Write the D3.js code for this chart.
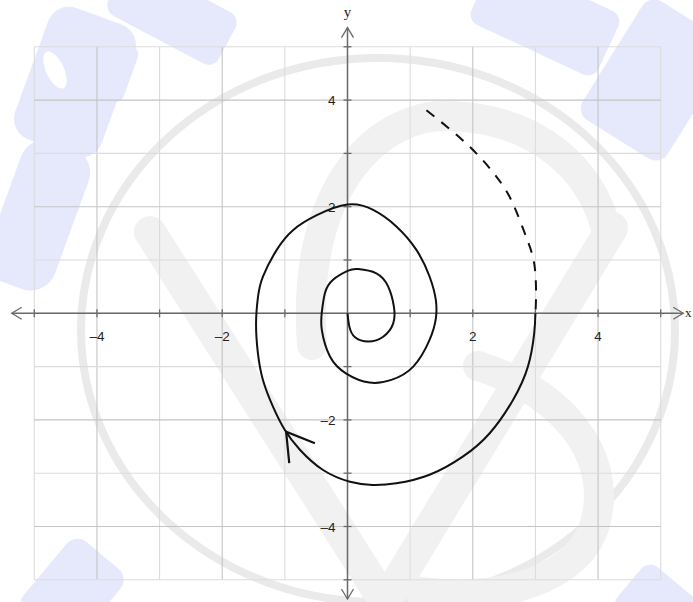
<!DOCTYPE html>
<html>
<head>
<meta charset="utf-8">
<script src="https://cdn.jsdelivr.net/npm/d3@7"></script>
<style>
  html, body { margin: 0; padding: 0; background: #fff; }
  svg { display: block; }
</style>
</head>
<body>
<svg id="chart" width="693" height="602"></svg>
<script>
// ---------------- DATA ----------------
const xDomain = [-5, 5];
const yDomain = [-5, 5];
const gridValues = [-5, -4, -3, -2, -1, 0, 1, 2, 3, 4, 5];
const tickValues = [-5, -4, -3, -2, -1, 1, 2, 3, 4, 5];
const xTickLabels = [-4, -2, 2, 4];
const yTickLabels = [4, 2, -2, -4];
const axisExtent = 5.36;

// dashed (earlier) part of the trajectory
const dashedX = [1.26, 1.92, 2.38, 2.64, 2.85, 2.98, 3.01, 3.00];
const dashedY = [3.81, 3.16, 2.56, 2.06, 1.44, 0.94, 0.38, 0.00];

// solid part of the trajectory (clockwise, spiralling in to the origin)
const solidX = [3.00, 2.98, 2.88, 2.64, 2.27, 1.84, 1.31, 0.78, 0.40, 0.04, -0.39, -0.76, -1.00, -1.19, -1.35, -1.43, -1.46, -1.43, -1.35, -1.13, -0.87, -0.49, 0.00, 0.41, 0.78, 1.10, 1.31, 1.41, 1.41, 1.31, 1.05, 0.70, 0.35, -0.02, -0.28, -0.41, -0.41, -0.36, -0.23, 0.01, 0.17, 0.46, 0.65, 0.74, 0.73, 0.57, 0.33, 0.12, 0.03, 0.00];
const solidY = [0.00, -0.38, -1.00, -1.63, -2.25, -2.69, -3.03, -3.19, -3.22, -3.16, -2.94, -2.56, -2.19, -1.75, -1.25, -0.75, -0.20, 0.30, 0.69, 1.19, 1.56, 1.84, 2.04, 1.94, 1.63, 1.19, 0.69, 0.25, -0.10, -0.50, -1.00, -1.25, -1.30, -1.13, -0.81, -0.31, 0.02, 0.38, 0.63, 0.80, 0.83, 0.75, 0.50, 0.13, -0.19, -0.44, -0.53, -0.45, -0.25, 0.00];

// direction arrow (chevron) on the outer loop
const arrowX = [-0.52, -0.98, -0.93];
const arrowY = [-2.44, -2.22, -2.81];

// ---------------- DRAW ----------------
const svg = d3.select("#chart");
const W = 693, H = 602;

const x = d3.scaleLinear().domain(xDomain).range([34.3, 660.7]);
const y = d3.scaleLinear().domain(yDomain).range([579.8, 46.8]);

svg.append("rect").attr("width", W).attr("height", H).attr("fill", "#ffffff");

// ---- faint background watermark ----
const wm = svg.append("g").attr("class", "watermark");
const blue = "#e6e8fb";
const blueShapes = [
  {cx: 75, cy: 82, w: 92, h: 140, r: 22, rot: 20},
  {cx: 38, cy: 215, w: 72, h: 150, r: 26, rot: 20},
  {cx: 112, cy: 70, w: 40, h: 60, r: 10, rot: 20},
  {cx: 172, cy: 14, w: 125, h: 58, r: 12, rot: 28},
  {cx: 545, cy: 18, w: 140, h: 70, r: 12, rot: 25},
  {cx: 655, cy: 80, w: 100, h: 140, r: 14, rot: 32},
  {cx: 72, cy: 592, w: 70, h: 95, r: 14, rot: 40},
  {cx: 662, cy: 610, w: 85, h: 60, r: 12, rot: 40}
];
wm.selectAll("rect.blue").data(blueShapes).join("rect")
  .attr("class", "blue")
  .attr("x", d => -d.w / 2).attr("y", d => -d.h / 2)
  .attr("width", d => d.w).attr("height", d => d.h)
  .attr("rx", d => d.r)
  .attr("transform", d => `translate(${d.cx},${d.cy}) rotate(${d.rot})`)
  .attr("fill", blue);
wm.append("ellipse").attr("cx", 55).attr("cy", 70).attr("rx", 9).attr("ry", 20)
  .attr("transform", "rotate(-25,55,70)").attr("fill", "#ffffff");

const wmGray = "#f1f1f1";
wm.append("ellipse").attr("cx", 378).attr("cy", 330).attr("rx", 297).attr("ry", 272)
  .attr("fill", "none").attr("stroke", "#eaeaea").attr("stroke-width", 8);
wm.append("path").attr("d", "M150,232 L385,602 L612,228")
  .attr("fill", "none").attr("stroke", wmGray).attr("stroke-width", 32)
  .attr("stroke-linejoin", "round").attr("stroke-linecap", "round");
wm.append("path").attr("d", "M312,345 C300,185 380,112 452,116 C540,120 590,170 606,228")
  .attr("fill", "none").attr("stroke", wmGray).attr("stroke-width", 30)
  .attr("stroke-linecap", "round");
wm.append("path").attr("d", "M478,366 C560,392 612,452 596,520 C582,580 500,602 420,592")
  .attr("fill", "none").attr("stroke", wmGray).attr("stroke-width", 30)
  .attr("stroke-linecap", "round");

// ---- grid ----
const grid = svg.append("g").attr("class", "grid");
grid.selectAll("line.v").data(gridValues).join("line")
  .attr("class", "v")
  .attr("x1", d => x(d)).attr("x2", d => x(d))
  .attr("y1", y(yDomain[1])).attr("y2", y(yDomain[0]))
  .attr("stroke", d => d % 2 === 0 ? "#c4c4c4" : "#dcdcdc")
  .attr("stroke-width", 1.1);
grid.selectAll("line.h").data(gridValues).join("line")
  .attr("class", "h")
  .attr("y1", d => y(d)).attr("y2", d => y(d))
  .attr("x1", x(xDomain[0])).attr("x2", x(xDomain[1]))
  .attr("stroke", d => d % 2 === 0 ? "#c4c4c4" : "#dcdcdc")
  .attr("stroke-width", 1.1);

// ---- axes ----
const axisColor = "#6a6a6a";
const axes = svg.append("g").attr("class", "axes");
axes.append("line")
  .attr("x1", x(-axisExtent)).attr("x2", x(axisExtent))
  .attr("y1", y(0)).attr("y2", y(0))
  .attr("stroke", axisColor).attr("stroke-width", 1.5);
axes.append("line")
  .attr("x1", x(0)).attr("x2", x(0))
  .attr("y1", y(axisExtent)).attr("y2", y(-axisExtent))
  .attr("stroke", axisColor).attr("stroke-width", 1.5);

// arrow heads (open chevrons)
const ah = 10, aw = 6;
const heads = [
  `M${x(-axisExtent) + ah},${y(0) - aw} L${x(-axisExtent)},${y(0)} L${x(-axisExtent) + ah},${y(0) + aw}`,
  `M${x(axisExtent) - ah},${y(0) - aw} L${x(axisExtent)},${y(0)} L${x(axisExtent) - ah},${y(0) + aw}`,
  `M${x(0) - aw},${y(axisExtent) + ah} L${x(0)},${y(axisExtent)} L${x(0) + aw},${y(axisExtent) + ah}`,
  `M${x(0) - aw},${y(-axisExtent) - ah} L${x(0)},${y(-axisExtent)} L${x(0) + aw},${y(-axisExtent) - ah}`
];
axes.selectAll("path.head").data(heads).join("path")
  .attr("class", "head").attr("d", d => d)
  .attr("fill", "none").attr("stroke", axisColor).attr("stroke-width", 1.3);

// ticks
axes.selectAll("line.xt").data(tickValues).join("line")
  .attr("class", "xt")
  .attr("x1", d => x(d)).attr("x2", d => x(d))
  .attr("y1", y(0) - 4).attr("y2", y(0) + 4)
  .attr("stroke", axisColor).attr("stroke-width", 1.3);
axes.selectAll("line.yt").data(tickValues).join("line")
  .attr("class", "yt")
  .attr("y1", d => y(d)).attr("y2", d => y(d))
  .attr("x1", x(0) - 4).attr("x2", x(0) + 4)
  .attr("stroke", axisColor).attr("stroke-width", 1.3);

// tick labels
const fmt = v => (v < 0 ? "\u2013" + Math.abs(v) : String(v));
const labelFont = "'Liberation Sans', Arial, sans-serif";
axes.selectAll("text.xl").data(xTickLabels).join("text")
  .attr("class", "xl")
  .attr("x", d => x(d)).attr("y", y(0) + 28)
  .attr("text-anchor", "middle")
  .attr("font-family", labelFont).attr("font-size", 13.5)
  .attr("fill", "#222").text(fmt);
axes.selectAll("text.yl").data(yTickLabels).join("text")
  .attr("class", "yl")
  .attr("x", x(0) - 12).attr("y", d => y(d) + 5)
  .attr("text-anchor", "end")
  .attr("font-family", labelFont).attr("font-size", 13.5)
  .attr("fill", "#222").text(fmt);

// axis names
axes.append("text").attr("x", x(0)).attr("y", 17)
  .attr("text-anchor", "middle")
  .attr("font-family", "'Liberation Serif', 'DejaVu Serif', serif")
  .attr("font-size", 15).attr("fill", "#222").text("y");
axes.append("text").attr("x", 685).attr("y", y(0) + 4)
  .attr("text-anchor", "start")
  .attr("font-family", "'Liberation Serif', 'DejaVu Serif', serif")
  .attr("font-size", 13).attr("fill", "#222").text("x");

// ---- trajectory ----
const line = d3.line()
  .x(d => x(d[0])).y(d => y(d[1]))
  .curve(d3.curveNatural);

const dashedPts = dashedX.map((v, i) => [v, dashedY[i]]);
const solidPts = solidX.map((v, i) => [v, solidY[i]]);
const arrowPts = arrowX.map((v, i) => [v, arrowY[i]]);

const traj = svg.append("g").attr("class", "trajectory");
traj.append("path").datum(dashedPts).attr("d", line)
  .attr("fill", "none").attr("stroke", "#111").attr("stroke-width", 2)
  .attr("stroke-dasharray", "10,9");
traj.append("path").datum(solidPts).attr("d", line)
  .attr("fill", "none").attr("stroke", "#111").attr("stroke-width", 2);
traj.append("path").datum(arrowPts)
  .attr("d", d3.line().x(d => x(d[0])).y(d => y(d[1])))
  .attr("fill", "none").attr("stroke", "#111").attr("stroke-width", 2.2)
  .attr("stroke-linejoin", "miter");
</script>
</body>
</html>
